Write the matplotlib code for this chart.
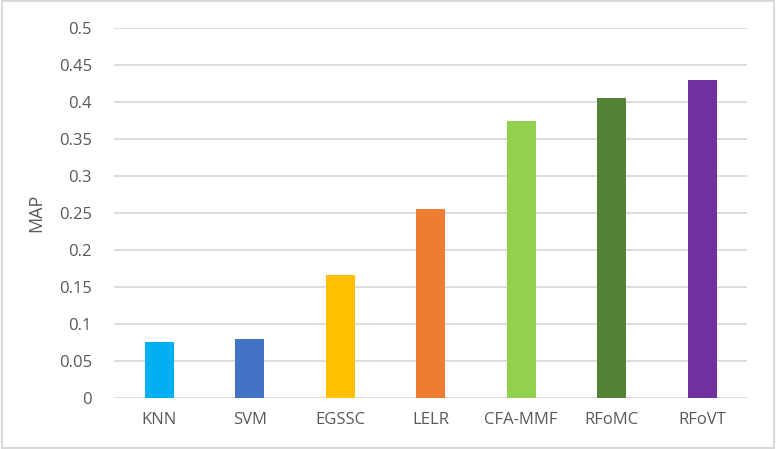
import matplotlib.pyplot as plt
import numpy as np

methods = ['KNN', 'SVM', 'EGSSC', 'LELR', 'CFA-MMF', 'RFoMC', 'RFoVT']
map_scores = [0.076, 0.080, 0.166, 0.255, 0.374, 0.405, 0.430]
colors = ['#00B0F0', '#4472C4', '#FFC000', '#ED7D31', '#92D050', '#548235', '#7030A0']

plt.rcParams['font.family'] = ['Open Sans', 'DejaVu Sans']

fig = plt.figure(figsize=(7.76, 4.49), dpi=100)
ax = fig.add_axes([0.147, 0.1136, 0.816, 0.824])

x = np.arange(len(methods))
ax.bar(x, map_scores, width=0.32, color=colors, zorder=3)

ax.set_xlim(-0.5, len(methods) - 0.5)
ax.set_ylim(0, 0.5)
yt = np.arange(0, 0.501, 0.05)
ax.set_yticks(yt)
ax.set_yticklabels(['0'] + ['%g' % round(v, 2) for v in yt[1:]])
ax.set_xticks(x)
ax.set_xticklabels(methods)
ax.grid(axis='y', color='#D9D9D9', linewidth=1.3, zorder=0)
for s in ax.spines.values():
    s.set_visible(False)
ax.tick_params(length=0, labelsize=12, colors='#595959', pad=16)
ax.tick_params(axis='x', pad=10)
ax.set_ylabel('MAP', fontsize=13, color='#595959', labelpad=10)

# chart border
fig.patches.append(plt.Rectangle((0.002, 0.003), 0.995, 0.994, transform=fig.transFigure,
                                 fill=False, edgecolor='#D9D9D9', linewidth=1.5))

fig.savefig('out.png', dpi=100)
